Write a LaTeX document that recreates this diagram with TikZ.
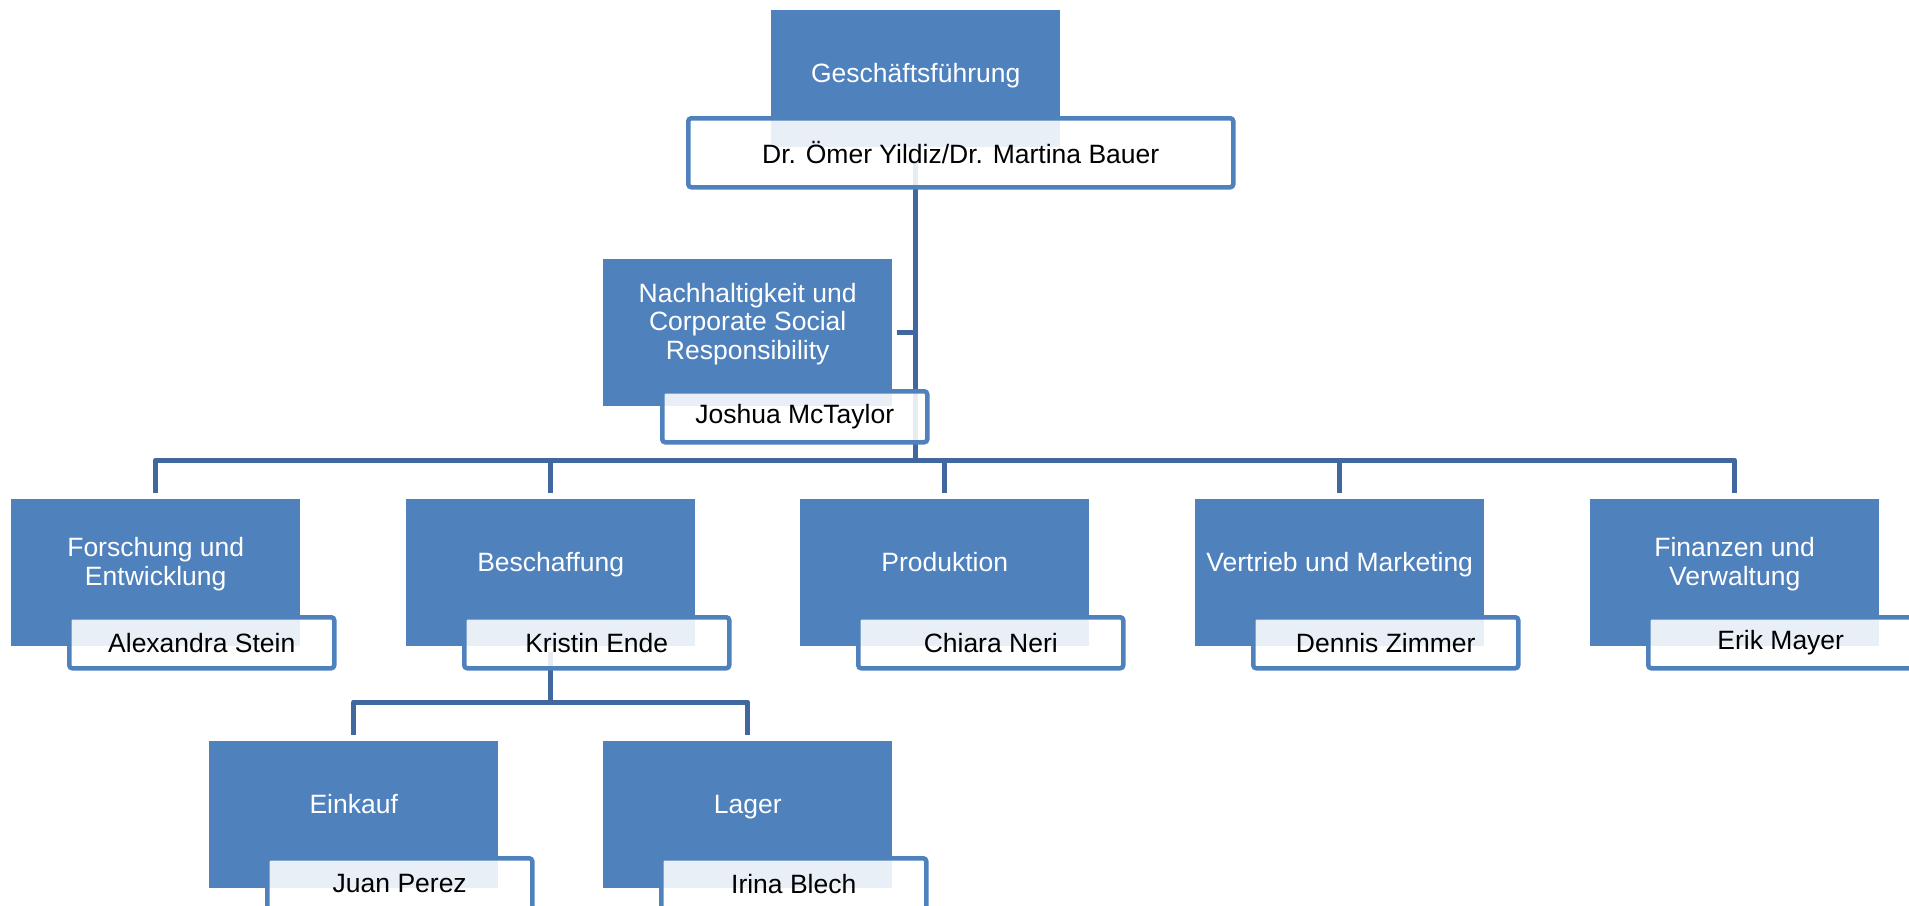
\documentclass[tikz,border=0pt]{standalone}
\usepackage{fontspec}
\setmainfont{Liberation Sans}
\usetikzlibrary{backgrounds,calc}
\definecolor{boxblue}{RGB}{79,129,189}
\definecolor{linkblue}{RGB}{64,104,158}
\begin{document}
\begin{tikzpicture}[x=1pt,y=-1pt,
 unit/.style={fill=boxblue,draw=none,minimum width=289pt,minimum height=147pt,inner sep=0pt,anchor=north west},
 unittext/.style={text=white,align=center,inner sep=0pt,font=\fontsize{26.5}{28.5}\selectfont},
 onetext/.style={unittext,anchor=base},
 namebox/.style={draw=boxblue,line width=4.5pt,rounded corners=3pt,fill=white,fill opacity=0.88,text opacity=1,
   minimum width=265pt,minimum height=51pt,inner sep=0pt,anchor=north west,
   font=\fontsize{26.5}{28.5}\selectfont,text=black},
 link/.style={draw=linkblue,line width=5pt,line join=round}]
\useasboundingbox (0,0) rectangle (1909,905);
\clip (0,0) rectangle (1909,905);

% top
\node[unit,minimum height=137pt] (gf) at (771,10) {};
\node[onetext] (gft) at ($(gf.north)+(0,72)$) {Geschäftsführung};
\node[namebox,minimum width=545pt,minimum height=69pt] (gfn) at (686,116) {Dr. Ömer Yildiz/Dr. Martina Bauer};

% staff unit
\node[unit] (csr) at (603,259) {};
\node[unittext] (csrt) at ($(csr.north)+(0,65)$) {Nachhaltigkeit und\\Corporate Social\\Responsibility};
\node[namebox] (csrn) at (660,389) {Joshua McTaylor};

% level 2
\node[unit] (fe) at (11,499) {};
\node[unittext] (fet) at ($(fe.north)+(0,65)$) {Forschung und\\Entwicklung};
\node[namebox] (fen) at (67,615) {Alexandra Stein};

\node[unit] (be) at (406,499) {};
\node[onetext] (bet) at ($(be.north)+(0,72.5)$) {Beschaffung};
\node[namebox] (ben) at (462,615) {Kristin Ende};

\node[unit] (pr) at (800,499) {};
\node[onetext] (prt) at ($(pr.north)+(0,72.5)$) {Produktion};
\node[namebox] (prn) at (856,615) {Chiara Neri};

\node[unit] (vm) at (1195,499) {};
\node[onetext] (vmt) at ($(vm.north)+(0,72.5)$) {Vertrieb und Marketing};
\node[namebox] (vmn) at (1251,615) {Dennis Zimmer};

\node[unit] (fv) at (1590,499) {};
\node[unittext] (fvt) at ($(fv.north)+(0,65)$) {Finanzen und\\Verwaltung};
\node[namebox] (fvn) at (1646,615) {Erik Mayer};

% level 3
\node[unit] (ek) at (209,741) {};
\node[onetext] (ekt) at ($(ek.north)+(0,72)$) {Einkauf};
\node[namebox] (ekn) at (265,856) {Juan Perez};

\node[unit] (la) at (603,741) {};
\node[onetext] (lat) at ($(la.north)+(0,72)$) {Lager};
\node[namebox] (lan) at (659,856) {Irina Blech};

% connectors
\coordinate (bus) at (0,460);
\coordinate (sub) at (0,702);
\begin{scope}[on background layer]
\draw[link] ($(gf.south)+(0,15)$) -- (gf.south |- bus);
\draw[link] ($(csr.east)+(5,0)$) -- (csr.east -| gf.south);
\draw[link] ($(fe.north)+(0,-6)$) -- (fe.north |- bus) -- (fv.north |- bus) -- ($(fv.north)+(0,-6)$);
\draw[link] (be.north |- bus) -- ($(be.north)+(0,-6)$);
\draw[link] (pr.north |- bus) -- ($(pr.north)+(0,-6)$);
\draw[link] (vm.north |- bus) -- ($(vm.north)+(0,-6)$);
\draw[link] ($(be.south)+(0,6)$) -- (be.south |- sub);
\draw[link] ($(ek.north)+(0,-6)$) -- (ek.north |- sub) -- (la.north |- sub) -- ($(la.north)+(0,-6)$);
\end{scope}
\end{tikzpicture}
\end{document}
